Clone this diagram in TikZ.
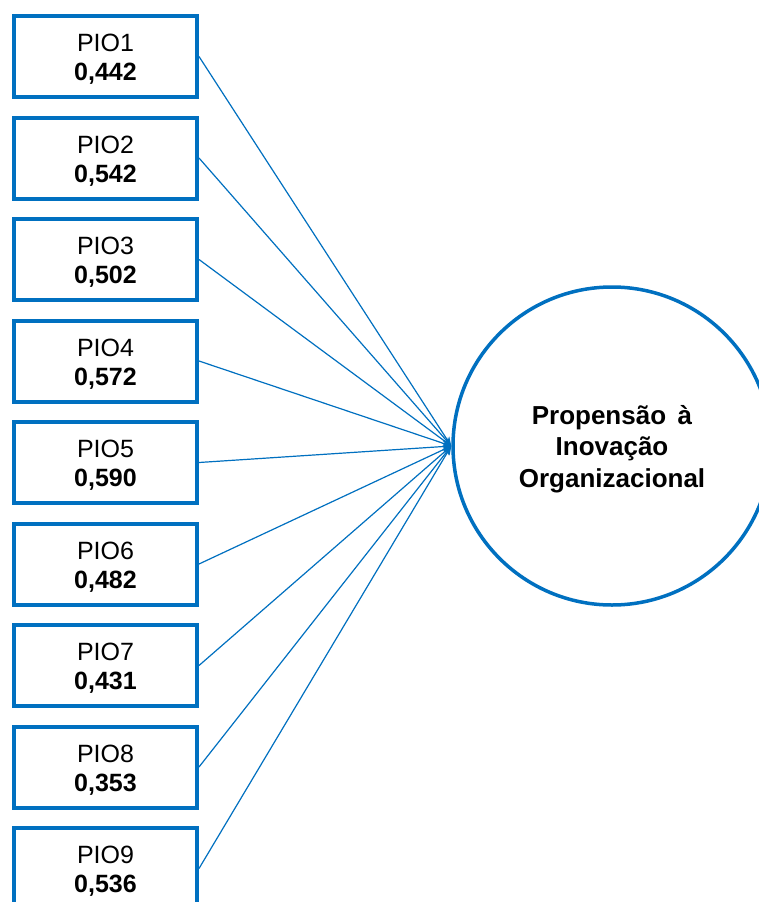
\documentclass[tikz,border=0pt]{standalone}
\usepackage{fontspec}
\setmainfont{Liberation Sans}
\usetikzlibrary{arrows.meta}
\definecolor{pioblue}{RGB}{0,112,192}
\begin{document}
\begin{tikzpicture}[x=1pt,y=-1pt,
  itembox/.style={draw=pioblue, line width=4pt, rectangle, minimum width=183pt,
    minimum height=81pt, inner sep=0pt, align=center,
    font=\fontsize{25}{29}\selectfont},
  construct/.style={draw=pioblue, line width=3.5pt, circle, minimum size=318pt,
    inner sep=0pt, align=center, font=\fontsize{26}{31.5}\selectfont\bfseries},
  loading/.style={draw=pioblue, line width=1.2pt, -{Stealth[length=9pt,width=7pt]}}]
\useasboundingbox (0,0) rectangle (759,902);
\clip (0,0) rectangle (759,902);
\fill[white] (0,0) rectangle (759,902);

% latent construct
\node[construct] (pio) at (612,446)
  {\rule{0pt}{25pt}Propensão\, à\\Inovação\\Organizacional};

% indicators with their loadings
\foreach \i/\v in {1/{0,442}, 2/{0,542}, 3/{0,502}, 4/{0,572}, 5/{0,590},
                   6/{0,482}, 7/{0,431}, 8/{0,353}, 9/{0,536}}{
  \node[itembox] (item\i) at (105.5, {56.5+(\i-1)*101.5})
    {\rule{0pt}{23pt}PIO\i\\\textbf{\v}};
}
\foreach \i in {1,...,9}{
  \draw[loading] (item\i.east) -- (pio.west);
}
\end{tikzpicture}
\end{document}
